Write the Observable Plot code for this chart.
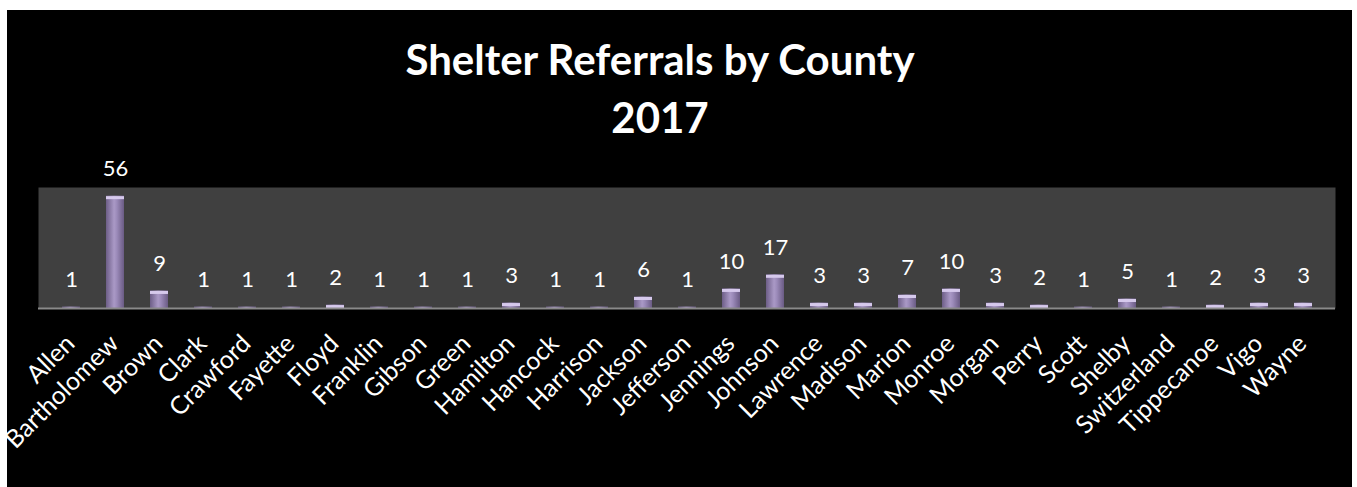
<!DOCTYPE html>
<html>
<head>
<meta charset="utf-8">
<script src="https://cdn.jsdelivr.net/npm/d3@7"></script>
<script src="https://cdn.jsdelivr.net/npm/@observablehq/plot@0.6"></script>
<style>
  html, body { margin: 0; padding: 0; background: #ffffff; }
  #wrap { position: absolute; left: 7px; top: 10px; width: 1345px; height: 477px; background: #000; overflow: hidden; }
  .t { position: absolute; left: 0; width: 1306px; text-align: center; color: #fff; font-family: Lato, "Open Sans", sans-serif; font-weight: bold; font-size: 42px; line-height: 48px; }
  #chart { position: absolute; left: 0; top: 140px; }
  #chart svg { overflow: visible; }
</style>
</head>
<body>
<div id="wrap">
  <div class="t" style="top:24.75px">Shelter Referrals by County</div>
  <div class="t" style="top:82.75px">2017</div>
  <div id="chart"></div>
</div>
<script>
const counties = ["Allen","Bartholomew","Brown","Clark","Crawford","Fayette","Floyd","Franklin","Gibson","Green","Hamilton","Hancock","Harrison","Jackson","Jefferson","Jennings","Johnson","Lawrence","Madison","Marion","Monroe","Morgan","Perry","Scott","Shelby","Switzerland","Tippecanoe","Vigo","Wayne"];
const referrals = [1,56,9,1,1,1,2,1,1,1,3,1,1,6,1,10,17,3,3,7,10,3,2,1,5,1,2,3,3];
const yDomain = [0.3, 60.3];

const data = counties.map((c, i) => ({county: c, value: referrals[i]}));

const chart = Plot.plot({
  width: 1345,
  height: 337,
  marginLeft: 31,
  marginRight: 17,
  marginTop: 37,
  marginBottom: 179,
  style: {background: "transparent", color: "#fff", fontFamily: "Lato, 'Open Sans', sans-serif", fontSize: "22px", overflow: "visible"},
  x: {domain: counties, paddingInner: 0.58, paddingOuter: 0.29, axis: null},
  y: {domain: yDomain, clamp: true, axis: null},
  marks: [
    Plot.frame({fill: "#404040", stroke: null}),
    Plot.barY(data, {x: "county", y: "value", fill: "url(#barGrad)", dx: 1}),
    Plot.tickY(data.filter(d => d.value > 1), {x: "county", y: "value", stroke: "#d6c9ec", strokeWidth: 3, dy: 1.5, dx: 1}),
    Plot.ruleY([yDomain[0]], {stroke: "#8a8a8a", strokeWidth: 2}),
    Plot.text(data, {x: "county", y: "value", text: d => String(d.value), fill: "#fff", fontSize: 22, lineAnchor: "middle", dy: -27, dx: 1}),
    Plot.axisX({tickRotate: -45, tickSize: 0, tickPadding: 31, fontSize: 25, fill: "#fff", dx: 0, label: null})
  ]
});

const svg = d3.select(chart);
const defs = svg.insert("defs", ":first-child");
const g = defs.append("linearGradient").attr("id", "barGrad").attr("x1", "0").attr("x2", "1").attr("y1", "0").attr("y2", "0");
g.append("stop").attr("offset", "0%").attr("stop-color", "#6d5e87");
g.append("stop").attr("offset", "45%").attr("stop-color", "#aa99c6");
g.append("stop").attr("offset", "60%").attr("stop-color", "#9c8bba");
g.append("stop").attr("offset", "100%").attr("stop-color", "#6a5b84");

document.getElementById("chart").appendChild(chart);
</script>
</body>
</html>
